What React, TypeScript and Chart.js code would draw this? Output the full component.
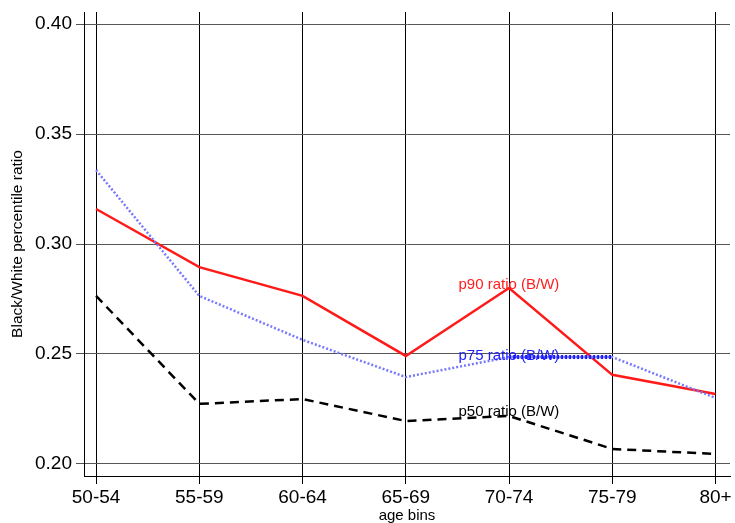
import React, { useEffect, useRef } from "react";
import { Chart, registerables } from "chart.js";

Chart.register(...registerables);

const categories = ["50-54", "55-59", "60-64", "65-69", "70-74", "75-79", "80+"];
const p90 = [0.3159, 0.2895, 0.2764, 0.2491, 0.2800, 0.2405, 0.2318];
const p75 = [0.3336, 0.2764, 0.2564, 0.2395, 0.2486, 0.2486, 0.2300];
const p50 = [0.2764, 0.2273, 0.2295, 0.2195, 0.2218, 0.2068, 0.2045];
const p75Highlight = [null, null, null, null, 0.2486, 0.2486, null];
const yTicks = [0.2, 0.25, 0.3, 0.35, 0.4];
const seriesLabels = ["p90 ratio (B/W)", "p75 ratio (B/W)", "p50 ratio (B/W)"];
const labelAnchors = [
  { x: 3.51, y: 0.2814, color: "#ff2020" },
  { x: 3.51, y: 0.2491, color: "#2020ff" },
  { x: 3.51, y: 0.2236, color: "#000000" },
];

const FONT = "'Liberation Sans', Arial, Helvetica, sans-serif";

const toXY = (arr: (number | null)[]) => arr.map((v, i) => ({ x: i, y: v }));

const labelPlugin = {
  id: "seriesLabels",
  afterDatasetsDraw(chart: any) {
    const { ctx, scales } = chart;
    ctx.save();
    ctx.font = `15px ${FONT}`;
    ctx.textAlign = "left";
    ctx.textBaseline = "middle";
    seriesLabels.forEach((t, i) => {
      const a = labelAnchors[i];
      ctx.fillStyle = a.color;
      ctx.fillText(t, scales.x.getPixelForValue(a.x), scales.y.getPixelForValue(a.y));
    });
    ctx.restore();
  },
};

export default function App() {
  const ref = useRef<HTMLCanvasElement>(null);
  useEffect(() => {
    if (!ref.current) return;
    const chart = new Chart(ref.current, {
      type: "line",
      data: {
        datasets: [
          {
            label: "p50",
            data: toXY(p50),
            borderColor: "#000000",
            borderWidth: 2.5,
            borderDash: [9, 6],
            pointRadius: 0,
            fill: false,
          },
          {
            label: "p75",
            data: toXY(p75),
            borderColor: "#7878ff",
            borderWidth: 2.5,
            borderDash: [2, 2],
            pointRadius: 0,
            fill: false,
          },
          {
            label: "p75hl",
            data: toXY(p75Highlight),
            borderColor: "#1515ff",
            borderWidth: 4,
            borderDash: [2, 2],
            pointRadius: 0,
            fill: false,
            spanGaps: false,
          },
          {
            label: "p90",
            data: toXY(p90),
            borderColor: "#ff1a1a",
            borderWidth: 2.5,
            pointRadius: 0,
            fill: false,
          },
        ],
      },
      options: {
        animation: false,
        responsive: false,
        maintainAspectRatio: false,
        layout: { padding: { top: 12, right: 5, left: 0, bottom: 0 } },
        plugins: { legend: { display: false }, tooltip: { enabled: false } },
        scales: {
          x: {
            type: "linear",
            min: -0.117,
            max: 6.14,
            afterBuildTicks: (s: any) => {
              s.ticks = categories.map((_, i) => ({ value: i }));
            },
            afterFit: (s: any) => {
              s.height = 47;
              s.paddingLeft = 0;
              s.paddingRight = 0;
            },
            ticks: {
              callback: (v: any) => categories[v as number] ?? "",
              color: "#000",
              font: { family: FONT, size: 19 },
              padding: 2,
              maxRotation: 0,
              autoSkip: false,
            },
            grid: { color: "#000", lineWidth: 1, tickLength: 8, drawOnChartArea: true },
            border: { display: true, color: "#000", width: 1 },
            title: {
              display: true,
              text: "age bins",
              color: "#000",
              font: { family: FONT, size: 15 },
              padding: { top: 0, bottom: -2 },
            },
          },
          y: {
            type: "linear",
            min: 0.1945,
            max: 0.4055,
            afterBuildTicks: (s: any) => {
              s.ticks = yTicks.map((v) => ({ value: v }));
            },
            afterFit: (s: any) => {
              s.width = 84;
              s.paddingTop = 0;
              s.paddingBottom = 0;
            },
            ticks: {
              callback: (v: any) => Number(v).toFixed(2),
              color: "#000",
              font: { family: FONT, size: 19 },
              padding: 4,
            },
            grid: { color: "#555", lineWidth: 1, tickLength: 8 },
            border: { display: true, color: "#000", width: 1 },
            title: {
              display: true,
              text: "Black/White percentile ratio",
              color: "#000",
              font: { family: FONT, size: 15.5 },
              padding: { top: 8, bottom: 0 },
            },
          },
        },
      },
      plugins: [labelPlugin],
    } as any);
    return () => chart.destroy();
  }, []);
  return (
    <div style={{ position: "absolute", left: 0, top: 0, width: 735, height: 523, background: "#fff" }}>
      <canvas ref={ref} width={735} height={523} style={{ width: 735, height: 523 }} />
    </div>
  );
}
